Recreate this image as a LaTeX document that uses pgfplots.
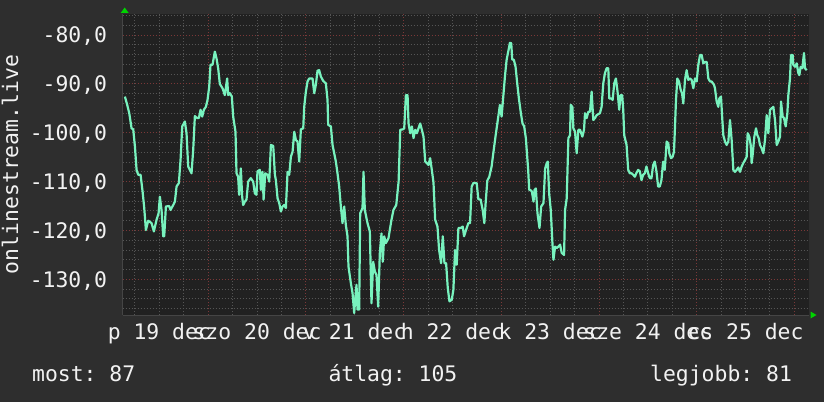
\documentclass[border=0pt]{standalone}
\usepackage{pgfplots}
\pgfplotsset{compat=1.18}
\usepackage{fontspec}
\setmainfont{DejaVu Sans Mono}
\frenchspacing

\definecolor{canvasbg}{HTML}{2E2E2E}
\definecolor{plotbg}{HTML}{212121}
\definecolor{trace}{HTML}{78F2BE}
\definecolor{majgrid}{HTML}{7A3838}
\definecolor{mingrid}{HTML}{555555}
\definecolor{axisgray}{HTML}{454545}
\definecolor{arrowgreen}{HTML}{00D400}
\definecolor{txt}{HTML}{F2F2F2}

% hours since 20 dec 00:00, signal in dB
\pgfplotstableread{
h v
-20.46 -92.6
-19.89 -94.3
-19.39 -96.0
-18.82 -99.1
-18.41 -99.3
-18.00 -102.8
-17.59 -107.6
-17.18 -108.6
-16.61 -108.6
-16.12 -112.0
-15.71 -115.4
-15.30 -119.9
-14.73 -118.0
-13.91 -118.5
-13.34 -120.2
-12.68 -117.8
-12.19 -116.5
-11.87 -113.1
-11.46 -115.8
-11.05 -121.2
-10.80 -121.2
-10.39 -115.1
-9.57 -115.0
-9.25 -115.8
-8.59 -114.8
-8.18 -114.1
-7.77 -111.0
-7.20 -110.3
-6.79 -105.6
-6.38 -98.7
-5.73 -97.7
-5.32 -100.1
-4.91 -106.9
-4.50 -107.6
-4.09 -108.3
-3.68 -103.5
-3.27 -96.6
-2.70 -97.0
-2.29 -97.0
-1.88 -95.3
-1.47 -96.7
-1.06 -95.3
-0.57 -94.7
-0.16 -93.3
0.25 -90.6
0.57 -86.1
1.06 -86.1
1.64 -83.4
2.05 -84.8
2.45 -86.8
2.86 -90.0
3.52 -90.9
4.09 -92.3
4.66 -88.9
4.91 -92.3
5.32 -91.9
5.81 -92.6
6.14 -96.7
6.71 -99.8
6.96 -108.3
7.36 -109.0
7.61 -112.7
8.02 -107.3
8.35 -113.1
8.59 -114.8
9.00 -114.1
9.41 -113.7
9.82 -110.0
10.47 -109.3
11.05 -110.0
11.46 -112.4
11.87 -112.7
12.11 -107.9
12.68 -107.6
12.95 -111.7
13.36 -108.0
13.61 -113.7
14.02 -108.3
14.59 -108.6
15.00 -110.0
15.41 -102.5
15.98 -102.7
16.39 -108.6
16.63 -109.7
17.04 -113.4
17.45 -114.4
17.86 -116.1
18.27 -115.1
18.68 -114.8
19.09 -115.4
19.50 -108.0
19.91 -108.6
20.32 -104.9
20.73 -103.9
21.14 -99.8
21.55 -101.5
21.95 -101.8
22.36 -105.9
22.77 -99.3
23.35 -99.1
23.59 -94.7
24.00 -91.6
24.41 -89.5
24.82 -88.9
25.64 -88.9
26.05 -91.9
26.45 -90.2
26.86 -87.3
27.27 -87.2
27.68 -88.5
28.26 -89.4
28.91 -89.9
29.32 -93.3
29.48 -98.4
30.14 -98.7
30.55 -102.5
30.96 -104.2
31.36 -105.9
31.77 -108.3
32.18 -111.0
32.59 -115.1
33.00 -118.5
33.41 -115.1
33.82 -118.9
34.23 -121.2
34.47 -127.4
35.05 -130.8
35.46 -132.8
35.87 -136.9
36.11 -134.2
36.44 -131.1
36.68 -136.2
37.09 -136.2
37.34 -116.5
37.91 -115.4
38.16 -108.0
38.48 -115.8
39.14 -118.5
39.71 -120.2
40.12 -134.9
40.53 -126.4
40.94 -128.4
41.35 -129.1
41.76 -135.6
42.17 -124.6
42.58 -120.6
42.90 -126.4
43.23 -121.2
43.64 -122.6
44.29 -121.6
44.62 -119.9
45.03 -117.8
45.52 -115.8
46.20 -114.8
46.78 -110.0
47.18 -99.4
47.84 -99.3
48.16 -99.1
48.57 -92.3
48.98 -92.3
49.22 -98.1
49.63 -100.1
50.04 -98.7
50.45 -101.1
50.86 -99.4
51.27 -100.1
51.67 -99.1
52.08 -98.1
52.49 -99.4
52.90 -100.8
53.31 -105.9
53.71 -106.2
54.12 -106.6
54.53 -105.2
54.94 -107.6
55.35 -110.2
55.76 -117.8
56.33 -119.2
56.73 -124.0
57.22 -126.7
57.63 -121.2
58.04 -126.7
58.45 -126.7
58.86 -131.8
59.27 -134.5
59.84 -134.2
60.24 -132.1
60.65 -124.0
61.06 -127.0
61.47 -119.5
62.04 -119.5
62.53 -119.2
62.86 -121.2
63.35 -119.9
63.92 -118.5
64.33 -118.5
64.73 -111.0
65.14 -110.3
65.96 -110.3
66.37 -113.6
66.94 -113.7
67.43 -115.8
67.84 -118.5
68.16 -114.4
68.57 -109.8
69.06 -109.0
69.63 -106.9
70.04 -104.2
70.69 -100.1
71.27 -96.7
71.67 -94.3
72.08 -96.7
72.49 -92.6
72.90 -88.5
73.31 -85.1
73.71 -83.4
74.12 -81.6
74.45 -81.7
74.69 -85.0
75.10 -85.1
75.51 -86.5
75.92 -89.9
76.33 -93.0
76.82 -96.0
77.22 -98.1
77.63 -98.7
78.04 -101.1
78.61 -107.6
78.86 -111.7
79.10 -111.7
79.51 -112.0
79.92 -114.1
80.16 -111.7
80.49 -111.4
80.90 -116.5
81.39 -119.5
81.80 -115.1
82.37 -114.4
82.78 -107.3
83.18 -106.2
83.43 -105.9
83.76 -112.4
84.16 -115.8
84.57 -122.6
84.82 -126.0
85.22 -123.3
85.63 -123.6
86.04 -123.3
86.45 -122.9
86.86 -124.6
87.43 -125.0
87.67 -115.8
88.08 -113.4
88.49 -101.1
88.90 -100.5
89.06 -94.3
89.47 -94.7
89.71 -99.1
90.12 -99.8
90.53 -104.2
90.94 -99.4
91.35 -99.4
91.92 -100.8
92.33 -99.4
92.57 -96.0
92.98 -97.0
93.39 -95.7
93.80 -95.7
94.20 -91.6
94.61 -97.4
95.02 -97.0
95.43 -96.4
96.24 -96.0
96.65 -94.7
97.06 -89.9
97.47 -87.8
97.88 -86.8
98.29 -86.8
98.53 -93.0
99.10 -93.0
99.35 -93.3
99.76 -89.9
100.16 -88.9
100.57 -91.6
100.98 -95.3
101.31 -92.3
101.71 -92.3
101.96 -95.3
102.20 -100.5
102.78 -102.5
103.18 -107.6
103.59 -108.3
104.00 -108.3
104.41 -108.6
104.82 -109.0
105.22 -108.2
105.63 -107.6
106.04 -107.9
106.45 -109.7
106.86 -108.6
107.27 -108.3
107.67 -106.9
108.08 -108.3
108.49 -109.3
108.90 -109.3
109.31 -106.6
109.71 -105.9
110.12 -107.9
110.53 -111.0
110.94 -111.0
111.35 -109.7
111.76 -105.9
112.16 -107.6
112.63 -101.8
113.04 -102.2
113.28 -104.2
113.69 -105.2
114.10 -104.9
114.43 -103.9
114.68 -98.7
114.92 -93.3
115.25 -88.9
115.66 -89.5
116.07 -91.2
116.40 -91.9
116.72 -94.0
117.13 -89.2
117.54 -87.2
117.95 -89.2
118.36 -88.9
118.77 -89.2
119.18 -90.9
119.59 -88.9
120.00 -89.5
120.41 -86.1
120.82 -84.1
121.23 -84.1
121.64 -85.8
122.05 -85.5
122.46 -85.5
122.87 -88.9
123.28 -89.5
123.69 -89.5
124.26 -90.2
124.50 -90.9
124.91 -93.6
125.32 -94.7
125.57 -93.0
125.98 -92.6
126.31 -97.4
126.55 -100.5
126.96 -101.8
127.37 -102.5
127.78 -101.8
128.19 -97.4
128.60 -101.5
129.01 -107.6
129.42 -108.0
129.83 -107.6
130.24 -107.1
130.65 -108.0
131.06 -106.9
131.47 -106.2
131.88 -105.6
132.29 -104.9
132.53 -100.1
132.94 -100.8
133.27 -102.5
133.51 -106.2
133.76 -104.5
134.17 -100.8
134.58 -99.1
134.91 -100.5
135.23 -101.1
135.56 -102.5
135.97 -103.2
136.38 -104.2
136.79 -101.5
137.20 -96.4
137.61 -100.1
138.02 -95.3
138.43 -95.0
138.84 -94.7
139.25 -97.4
139.66 -102.5
140.07 -101.8
140.48 -100.8
140.72 -93.6
141.13 -96.7
141.46 -97.0
141.87 -98.7
142.28 -96.0
142.52 -92.3
142.93 -88.9
143.18 -84.1
143.59 -84.1
143.75 -86.1
144.16 -86.5
144.57 -85.8
144.98 -87.8
145.23 -88.2
145.55 -86.5
145.96 -86.8
146.37 -83.7
146.62 -86.8
147.03 -87.2
}\signal

\begin{document}
\begin{tikzpicture}[x=1pt,y=1pt,font=\fontsize{21.4}{24}\selectfont]
\useasboundingbox (0,0) rectangle (824,402);
\fill[canvasbg] (0,0) rectangle (824,402);
\begin{axis}[
    at={(122.7pt,87pt)}, anchor=south west,
    scale only axis, width=686.3pt, height=301pt,
    xmin=-21.0, xmax=147.6,
    ymin=-137.3, ymax=-75.7,
    axis background/.style={fill=plotbg},
    axis x line*=bottom, axis y line*=left,
    axis line style={axisgray, line width=1pt},
    xtick={0,24,48,72,96,120,144}, xticklabels={},
    minor xtick={-18,-12,-6,6,12,18,30,36,42,54,60,66,78,84,90,102,108,114,126,132,138},
    ytick={-130,-120,-110,-100,-90,-80},
    yticklabels={{-130,0},{-120,0},{-110,0},{-100,0},{-90,0},{-80,0}},
    minor ytick={-136,-134,-132,-128,-126,-124,-122,-118,-116,-114,-112,-108,-106,-104,-102,-98,-96,-94,-92,-88,-86,-84,-82,-78,-76},
    grid=both,
    major grid style={majgrid, line width=0.9pt, dash pattern=on 1.2pt off 1.8pt},
    minor grid style={mingrid, line width=0.9pt, dash pattern=on 1.2pt off 1.8pt},
    tick style={draw=none},
    tick label style={color=txt},
    yticklabel style={anchor=base east, inner sep=0pt, xshift=-15.4pt, yshift=-7.8pt},
    xticklabel style={anchor=base, inner sep=0pt, yshift=-24pt},
    extra x ticks={-12,12,36,60,84,108,132},
    extra x tick labels={p 19 dec,szo 20 dec,v 21 dec,h 22 dec,k 23 dec,sze 24 dec,cs 25 dec},
    extra x tick style={grid=none},
]
\addplot[trace, line width=2.2pt, line join=round] table[x=h, y=v] {\signal};
\end{axis}
% rrdtool style axis arrows
\fill[arrowgreen] (120.7,389) -- (128.7,389) -- (124.7,394.5) -- cycle;
\fill[arrowgreen] (810.5,83.5) -- (810.5,90.5) -- (816.5,87) -- cycle;
\node[txt, rotate=90, anchor=base, inner sep=0pt] at (18,237.5) {onlinestream.live};
\node[txt, anchor=base west, inner sep=0pt] at (32,20.3) {most: 87};
\node[txt, anchor=base west, inner sep=0pt] at (328.3,20.3) {átlag: 105};
\node[txt, anchor=base west, inner sep=0pt] at (650,20.3) {legjobb: 81};
\end{tikzpicture}
\end{document}
